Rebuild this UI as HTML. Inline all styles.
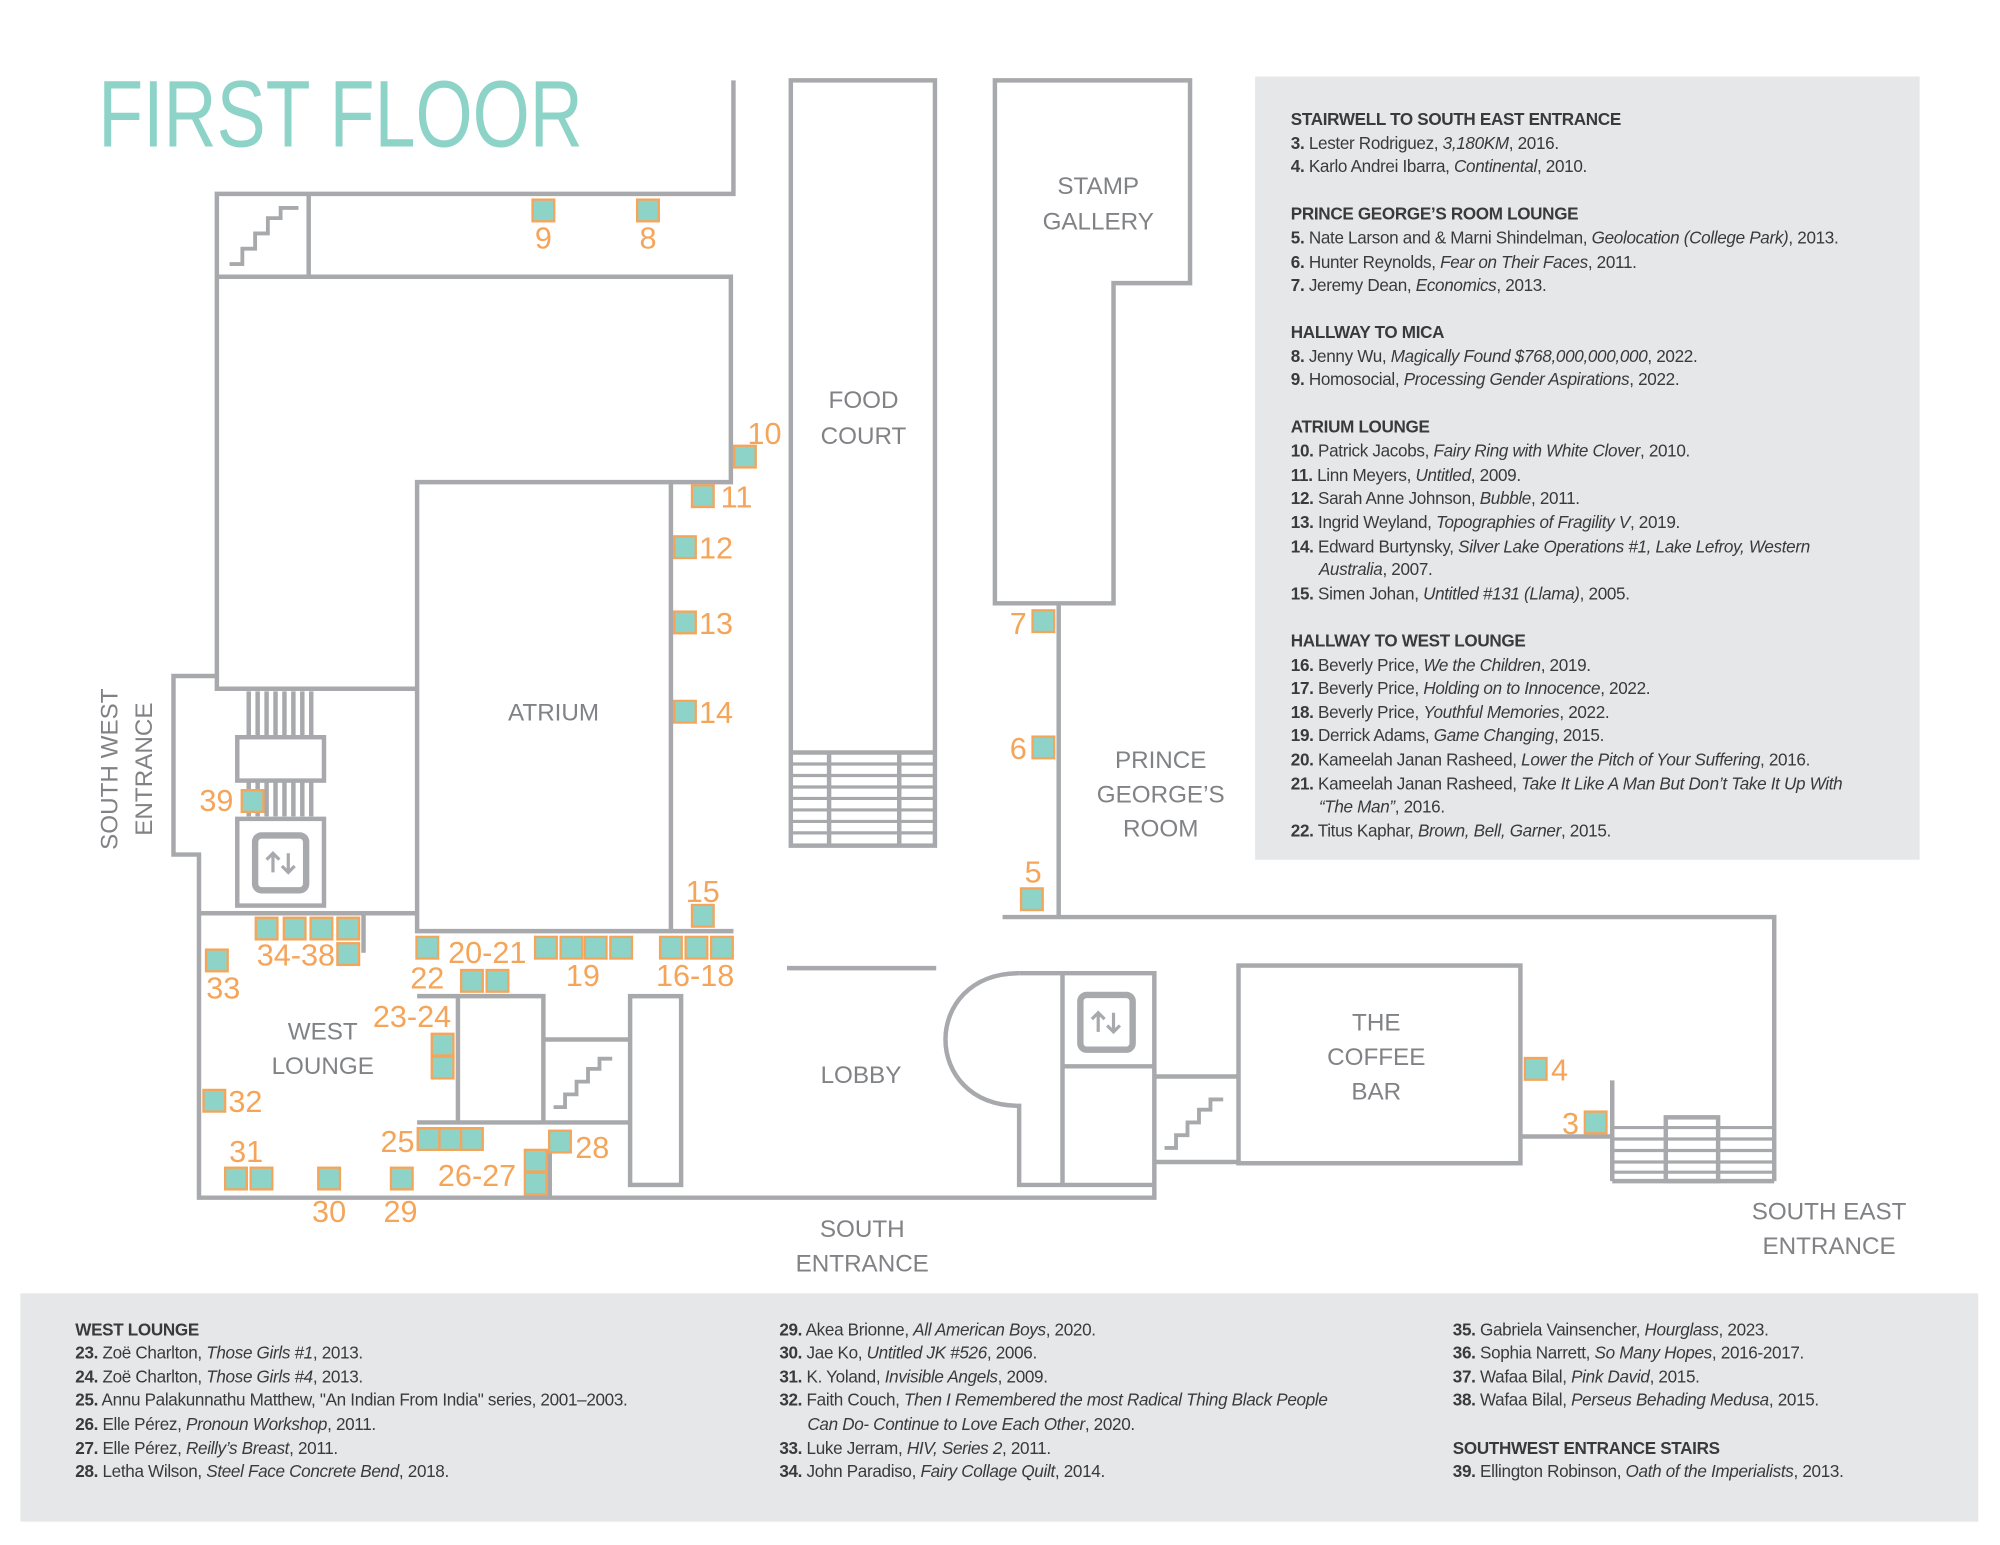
<!DOCTYPE html>
<html><head><meta charset="utf-8"><style>
html,body{margin:0;padding:0;background:#fff;}
svg{display:block;}
.w{fill:none;stroke:#a7a9ac;stroke-width:3.5;}
.a{fill:#8dd3c7;stroke:#f5a55a;stroke-width:1.8;}
.n{fill:#f5a55a;font-family:"Liberation Sans",sans-serif;font-size:24px;}
.l{fill:#808285;font-family:"Liberation Sans",sans-serif;font-size:19px;text-anchor:middle;}
.t{fill:#3a3a3a;font-family:"Liberation Sans",sans-serif;font-size:13.4px;letter-spacing:-0.25px;}
.h{font-weight:bold;}
.b{font-weight:bold;}
.i{font-style:italic;}
</style></head><body>
<svg width="2000" height="1545" viewBox="0 0 1568 1211.3" xmlns="http://www.w3.org/2000/svg">
<rect width="1568" height="1212" fill="#fff"/>
<text x="77" y="115" fill="#8dd3c7" font-family="Liberation Sans,sans-serif" font-size="74" textLength="380" lengthAdjust="spacingAndGlyphs">FIRST FLOOR</text>

<rect x="984" y="60" width="521" height="614" fill="#e6e7e8"/>
<rect x="16" y="1014" width="1535" height="179" fill="#e6e7e8"/>

<g class="w">
<polyline points="575,63 575,152 170,152 170,540 327,540"/>
<line x1="242" y1="152" x2="242" y2="217"/>
<polyline points="170,217 573,217 573,378 327,378 327,730 575,730"/>
<line x1="526" y1="378" x2="526" y2="730"/>
<polyline points="170,530 136,530 136,670 156,670 156,939 905,939 905,763 799,763"/>
<line x1="156" y1="716" x2="326" y2="716"/>
<line x1="285" y1="716" x2="285" y2="747"/>
<line x1="195" y1="542" x2="195" y2="640"/><line x1="202" y1="542" x2="202" y2="640"/>
<line x1="209" y1="542" x2="209" y2="640"/><line x1="216" y1="542" x2="216" y2="640"/>
<line x1="223" y1="542" x2="223" y2="640"/><line x1="230" y1="542" x2="230" y2="640"/>
<line x1="237" y1="542" x2="237" y2="640"/><line x1="244" y1="542" x2="244" y2="640"/>
<rect x="186" y="578" width="68" height="34" fill="#fff"/>
<rect x="186" y="642" width="68" height="68" fill="#fff"/>
<rect x="200" y="655" width="40" height="43" rx="5" stroke-width="5"/>
<polyline points="327,781 426,781 426,880"/>
<line x1="359" y1="781" x2="359" y2="880"/>
<line x1="327" y1="880" x2="494" y2="880"/>
<line x1="426" y1="815" x2="494" y2="815"/>
<rect x="494" y="781" width="40" height="148"/>
<line x1="431" y1="901" x2="431" y2="939"/>
<rect x="620" y="63" width="113" height="600"/>
<line x1="620" y1="590" x2="733" y2="590"/>
<line x1="650" y1="590" x2="650" y2="663"/><line x1="705" y1="590" x2="705" y2="663"/>
<g stroke-width="2.5">
<line x1="620" y1="599" x2="733" y2="599"/><line x1="620" y1="608" x2="733" y2="608"/>
<line x1="620" y1="617" x2="733" y2="617"/><line x1="620" y1="626" x2="733" y2="626"/>
<line x1="620" y1="635" x2="733" y2="635"/><line x1="620" y1="644" x2="733" y2="644"/>
<line x1="620" y1="653" x2="733" y2="653"/>
</g>
<line x1="617" y1="759" x2="734" y2="759"/>
<polygon points="780,63 933,63 933,222 873,222 873,473 780,473"/>
<line x1="830" y1="473" x2="830" y2="719"/>
<polyline points="786,719 1391,719 1391,926"/>
<path d="M799,763 C722,763 722,867 799,867 L799,929 L905,929"/>
<line x1="833" y1="763" x2="833" y2="929"/>
<line x1="833" y1="836" x2="905" y2="836"/>
<rect x="847" y="780" width="41" height="43" rx="5" stroke-width="5"/>
<line x1="905" y1="844" x2="971" y2="844"/>
<line x1="905" y1="911" x2="971" y2="911"/>
<rect x="971" y="757" width="221" height="155"/>
<polyline points="1192,891 1264,891"/>
<line x1="1264" y1="847" x2="1264" y2="926"/>
<line x1="1264" y1="926" x2="1391" y2="926"/>
<g stroke-width="2.5">
<line x1="1264" y1="884" x2="1391" y2="884"/><line x1="1264" y1="893" x2="1391" y2="893"/>
<line x1="1264" y1="902" x2="1391" y2="902"/><line x1="1264" y1="911" x2="1391" y2="911"/>
<line x1="1264" y1="919" x2="1391" y2="919"/>
</g>
<rect x="1306" y="876" width="41" height="50" fill="none"/>
<path d="M180,207 h10 v-12 h10 v-12 h10 v-12 h10 v-8 h14" stroke-width="3"/>
<path d="M434,868 h9 v-10 h9 v-10 h9 v-10 h9 v-8 h10" stroke-width="3"/>
<path d="M913,900 h9 v-10 h9 v-10 h9 v-10 h9 v-8 h10" stroke-width="3"/>
</g>
<g fill="none" stroke="#a7a9ac" stroke-width="2.5">
<path d="M214,684 v-15 M209,674 l5,-5 l5,5"/>
<path d="M226,669 v15 M221,679 l5,5 l5,-5"/>
<path d="M861,809 v-15 M856,799 l5,-5 l5,5"/>
<path d="M873,794 v15 M868,804 l5,5 l5,-5"/>
</g>

<g class="a">
<rect x="417.5" y="156.5" width="17" height="17"/><rect x="499.5" y="156.5" width="17" height="17"/>
<rect x="575.5" y="349.5" width="17" height="17"/>
<rect x="542.5" y="380.5" width="17" height="17"/>
<rect x="528.5" y="420.5" width="17" height="17"/>
<rect x="528.5" y="479.5" width="17" height="17"/>
<rect x="528.5" y="549.5" width="17" height="17"/>
<rect x="542.5" y="709.5" width="17" height="17"/>
<rect x="517.5" y="734.5" width="17" height="17"/><rect x="537.5" y="734.5" width="17" height="17"/><rect x="557.5" y="734.5" width="17" height="17"/>
<rect x="419.5" y="734.5" width="17" height="17"/><rect x="439.5" y="734.5" width="17" height="17"/><rect x="458.5" y="734.5" width="17" height="17"/><rect x="478.5" y="734.5" width="17" height="17"/>
<rect x="326.5" y="734.5" width="17" height="17"/>
<rect x="361.5" y="760.5" width="17" height="17"/><rect x="381.5" y="760.5" width="17" height="17"/>
<rect x="200.5" y="719.5" width="17" height="17"/><rect x="222.5" y="719.5" width="17" height="17"/><rect x="243.5" y="719.5" width="17" height="17"/><rect x="264.5" y="719.5" width="17" height="17"/><rect x="264.5" y="739.5" width="17" height="17"/>
<rect x="161.5" y="744.5" width="17" height="17"/>
<rect x="189.5" y="619.5" width="17" height="17"/>
<rect x="338.5" y="810.5" width="17" height="17"/><rect x="338.5" y="828.5" width="17" height="17"/>
<rect x="159.5" y="854.5" width="17" height="17"/>
<rect x="327.5" y="884.5" width="17" height="17"/><rect x="344.5" y="884.5" width="17" height="17"/><rect x="361.5" y="884.5" width="17" height="17"/>
<rect x="430.5" y="886.5" width="17" height="17"/>
<rect x="411.5" y="901.5" width="17" height="17"/><rect x="411.5" y="919.5" width="17" height="17"/>
<rect x="176.5" y="915.5" width="17" height="17"/><rect x="196.5" y="915.5" width="17" height="17"/>
<rect x="249.5" y="915.5" width="17" height="17"/>
<rect x="306.5" y="915.5" width="17" height="17"/>
<rect x="809.5" y="478.5" width="17" height="17"/>
<rect x="809.5" y="577.5" width="17" height="17"/>
<rect x="800.5" y="696.5" width="17" height="17"/>
<rect x="1195.5" y="829.5" width="17" height="17"/>
<rect x="1242.5" y="871.5" width="17" height="17"/>
</g>

<g class="n">
<text x="426" y="195" text-anchor="middle">9</text>
<text x="508" y="195" text-anchor="middle">8</text>
<text x="586" y="348">10</text>
<text x="565" y="398">11</text>
<text x="548" y="438">12</text>
<text x="548" y="497">13</text>
<text x="548" y="567">14</text>
<text x="551" y="707" text-anchor="middle">15</text>
<text x="545" y="773" text-anchor="middle">16-18</text>
<text x="457" y="773" text-anchor="middle">19</text>
<text x="382" y="755" text-anchor="middle">20-21</text>
<text x="335" y="775" text-anchor="middle">22</text>
<text x="232" y="757" text-anchor="middle">34-38</text>
<text x="175" y="783" text-anchor="middle">33</text>
<text x="183" y="636" text-anchor="end">39</text>
<text x="323" y="805" text-anchor="middle">23-24</text>
<text x="179" y="872">32</text>
<text x="325" y="903" text-anchor="end">25</text>
<text x="451" y="908">28</text>
<text x="374" y="930" text-anchor="middle">26-27</text>
<text x="193" y="911" text-anchor="middle">31</text>
<text x="258" y="958" text-anchor="middle">30</text>
<text x="314" y="958" text-anchor="middle">29</text>
<text x="805" y="497" text-anchor="end">7</text>
<text x="805" y="595" text-anchor="end">6</text>
<text x="810" y="692" text-anchor="middle">5</text>
<text x="1216" y="847">4</text>
<text x="1238" y="889" text-anchor="end">3</text>
</g>

<g class="l">
<text x="677" y="320">FOOD</text><text x="677" y="348">COURT</text>
<text x="861" y="152">STAMP</text><text x="861" y="180">GALLERY</text>
<text x="434" y="565">ATRIUM</text>
<text x="910" y="602">PRINCE</text><text x="910" y="629">GEORGE’S</text><text x="910" y="656">ROOM</text>
<text x="675" y="849">LOBBY</text>
<text x="253" y="815">WEST</text><text x="253" y="842">LOUNGE</text>
<text x="1079" y="808">THE</text><text x="1079" y="835">COFFEE</text><text x="1079" y="862">BAR</text>
<text x="676" y="970">SOUTH</text><text x="676" y="997">ENTRANCE</text>
<text x="1434" y="956">SOUTH EAST</text><text x="1434" y="983">ENTRANCE</text>
<text transform="translate(92,603) rotate(-90)">SOUTH WEST</text>
<text transform="translate(119,603) rotate(-90)">ENTRANCE</text>
</g>

<g class="t">
<text x="1012" y="98" class="h">STAIRWELL TO SOUTH EAST ENTRANCE</text>
<text x="1012" y="117"><tspan class="b">3.</tspan> Lester Rodriguez, <tspan class="i">3,180KM</tspan>, 2016.</text>
<text x="1012" y="135"><tspan class="b">4.</tspan> Karlo Andrei Ibarra, <tspan class="i">Continental</tspan>, 2010.</text>
<text x="1012" y="172" class="h">PRINCE GEORGE’S ROOM LOUNGE</text>
<text x="1012" y="191"><tspan class="b">5.</tspan> Nate Larson and &amp; Marni Shindelman, <tspan class="i">Geolocation (College Park)</tspan>, 2013.</text>
<text x="1012" y="210"><tspan class="b">6.</tspan> Hunter Reynolds, <tspan class="i">Fear on Their Faces</tspan>, 2011.</text>
<text x="1012" y="228"><tspan class="b">7.</tspan> Jeremy Dean, <tspan class="i">Economics</tspan>, 2013.</text>
<text x="1012" y="265" class="h">HALLWAY TO MICA</text>
<text x="1012" y="284"><tspan class="b">8.</tspan> Jenny Wu, <tspan class="i">Magically Found $768,000,000,000</tspan>, 2022.</text>
<text x="1012" y="302"><tspan class="b">9.</tspan> Homosocial, <tspan class="i">Processing Gender Aspirations</tspan>, 2022.</text>
<text x="1012" y="339" class="h">ATRIUM LOUNGE</text>
<text x="1012" y="358"><tspan class="b">10.</tspan> Patrick Jacobs, <tspan class="i">Fairy Ring with White Clover</tspan>, 2010.</text>
<text x="1012" y="377"><tspan class="b">11.</tspan> Linn Meyers, <tspan class="i">Untitled</tspan>, 2009.</text>
<text x="1012" y="395"><tspan class="b">12.</tspan> Sarah Anne Johnson, <tspan class="i">Bubble</tspan>, 2011.</text>
<text x="1012" y="414"><tspan class="b">13.</tspan> Ingrid Weyland, <tspan class="i">Topographies of Fragility V</tspan>, 2019.</text>
<text x="1012" y="433"><tspan class="b">14.</tspan> Edward Burtynsky, <tspan class="i">Silver Lake Operations #1, Lake Lefroy, Western</tspan></text>
<text x="1034" y="451"><tspan class="i">Australia</tspan>, 2007.</text>
<text x="1012" y="470"><tspan class="b">15.</tspan> Simen Johan, <tspan class="i">Untitled #131 (Llama)</tspan>, 2005.</text>
<text x="1012" y="507" class="h">HALLWAY TO WEST LOUNGE</text>
<text x="1012" y="526"><tspan class="b">16.</tspan> Beverly Price, <tspan class="i">We the Children</tspan>, 2019.</text>
<text x="1012" y="544"><tspan class="b">17.</tspan> Beverly Price, <tspan class="i">Holding on to Innocence</tspan>, 2022.</text>
<text x="1012" y="563"><tspan class="b">18.</tspan> Beverly Price, <tspan class="i">Youthful Memories</tspan>, 2022.</text>
<text x="1012" y="581"><tspan class="b">19.</tspan> Derrick Adams, <tspan class="i">Game Changing</tspan>, 2015.</text>
<text x="1012" y="600"><tspan class="b">20.</tspan> Kameelah Janan Rasheed, <tspan class="i">Lower the Pitch of Your Suffering</tspan>, 2016.</text>
<text x="1012" y="619"><tspan class="b">21.</tspan> Kameelah Janan Rasheed, <tspan class="i">Take It Like A Man But Don’t Take It Up With</tspan></text>
<text x="1034" y="637"><tspan class="i">“The Man”</tspan>, 2016.</text>
<text x="1012" y="656"><tspan class="b">22.</tspan> Titus Kaphar, <tspan class="i">Brown, Bell, Garner</tspan>, 2015.</text>
</g>

<g class="t">
<text x="59" y="1047" class="h">WEST LOUNGE</text>
<text x="59" y="1065"><tspan class="b">23.</tspan> Zoë Charlton, <tspan class="i">Those Girls #1</tspan>, 2013.</text>
<text x="59" y="1084"><tspan class="b">24.</tspan> Zoë Charlton, <tspan class="i">Those Girls #4</tspan>, 2013.</text>
<text x="59" y="1102"><tspan class="b">25.</tspan> Annu Palakunnathu Matthew, "An Indian From India" series,  2001–2003.</text>
<text x="59" y="1121"><tspan class="b">26.</tspan> Elle Pérez, <tspan class="i">Pronoun Workshop</tspan>, 2011.</text>
<text x="59" y="1140"><tspan class="b">27.</tspan> Elle Pérez, <tspan class="i">Reilly’s Breast</tspan>, 2011.</text>
<text x="59" y="1158"><tspan class="b">28.</tspan> Letha Wilson, <tspan class="i">Steel Face Concrete Bend</tspan>, 2018.</text>
<text x="611" y="1047"><tspan class="b">29.</tspan> Akea Brionne, <tspan class="i">All American Boys</tspan>, 2020.</text>
<text x="611" y="1065"><tspan class="b">30.</tspan> Jae Ko, <tspan class="i">Untitled JK #526</tspan>, 2006.</text>
<text x="611" y="1084"><tspan class="b">31.</tspan> K. Yoland, <tspan class="i">Invisible Angels</tspan>, 2009.</text>
<text x="611" y="1102"><tspan class="b">32.</tspan> Faith Couch, <tspan class="i">Then I Remembered the most  Radical Thing Black People</tspan></text>
<text x="633" y="1121"><tspan class="i">Can Do- Continue to Love Each Other</tspan>, 2020.</text>
<text x="611" y="1140"><tspan class="b">33.</tspan> Luke Jerram, <tspan class="i">HIV, Series 2</tspan>, 2011.</text>
<text x="611" y="1158"><tspan class="b">34.</tspan> John Paradiso, <tspan class="i">Fairy Collage Quilt</tspan>, 2014.</text>
<text x="1139" y="1047"><tspan class="b">35.</tspan> Gabriela Vainsencher, <tspan class="i">Hourglass</tspan>, 2023.</text>
<text x="1139" y="1065"><tspan class="b">36.</tspan> Sophia Narrett, <tspan class="i">So Many Hopes</tspan>, 2016-2017.</text>
<text x="1139" y="1084"><tspan class="b">37.</tspan> Wafaa Bilal, <tspan class="i">Pink David</tspan>, 2015.</text>
<text x="1139" y="1102"><tspan class="b">38.</tspan> Wafaa Bilal, <tspan class="i">Perseus Behading Medusa</tspan>, 2015.</text>
<text x="1139" y="1140" class="h">SOUTHWEST ENTRANCE STAIRS</text>
<text x="1139" y="1158"><tspan class="b">39.</tspan> Ellington Robinson, <tspan class="i">Oath of the Imperialists</tspan>, 2013.</text>
</g>
</svg>
</body></html>
